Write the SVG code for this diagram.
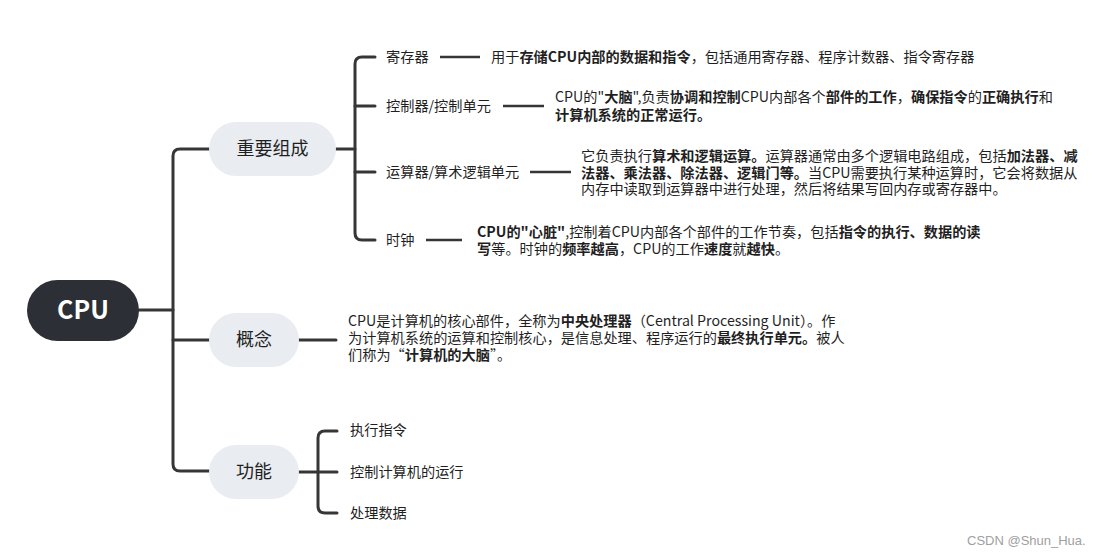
<svg xmlns="http://www.w3.org/2000/svg" width="1108" height="556" viewBox="0 0 1108 556">
<style>
text{font-family:"Noto Sans CJK SC","Noto Sans",sans-serif;fill:#1f1f1f}
.t{font-size:14.2px}
.b{font-weight:bold}
.topic{font-size:18px;text-anchor:middle}
.pill{fill:#e9ecf0}
.ln{fill:none;stroke:#363636;stroke-width:3;stroke-linecap:round;stroke-linejoin:round}
.dl{fill:none;stroke:#363636;stroke-width:2.5}
</style>
<rect width="1108" height="556" fill="#ffffff"/>
<g id="connectors">
<path class="ln" d="M139 310 H173"/>
<path class="ln" d="M209 149 H180 Q173 149 173 156 V464 Q173 471 180 471 H209"/>
<path class="ln" d="M173 340 H209"/>
<path class="ln" d="M336 149 H355"/>
<path class="ln" d="M375 57 H362 Q355 57 355 64 V233 Q355 240 362 240 H375"/>
<path class="ln" d="M355 106 H375"/>
<path class="ln" d="M355 172 H375"/>
<path class="dl" d="M440 57 H480"/>
<path class="dl" d="M503 106 H544"/>
<path class="dl" d="M530 172 H571"/>
<path class="dl" d="M426 240 H462"/>
<path class="ln" d="M299 340 H336"/>
<path class="ln" d="M299 472 H337"/>
<path class="ln" d="M337 431 H325 Q318 431 318 438 V506 Q318 513 325 513 H337"/>
</g>
<g id="cpu">
<rect x="27" y="280" width="112" height="61" rx="30.5" fill="#2c3036"/>
<text x="83" y="319" text-anchor="middle" class="b" style="font-size:25px;fill:#ffffff">CPU</text>
</g>
<g id="zhongyao">
<rect class="pill" x="209" y="122" width="127" height="54" rx="27"/>
<text class="topic" x="272.5" y="155">重要组成</text>
</g>
<g id="gainian">
<rect class="pill" x="209" y="313" width="90" height="54" rx="27"/>
<text class="topic" x="254" y="346">概念</text>
</g>
<g id="gongneng">
<rect class="pill" x="209" y="445" width="90" height="54" rx="27"/>
<text class="topic" x="254" y="478">功能</text>
</g>
<g id="jicunqi">
<text class="t" x="386" y="62">寄存器</text>
<text class="t" x="491" y="62">用于<tspan class="b">存储CPU内部的数据和指令</tspan>，包括通用寄存器、程序计数器、指令寄存器</text>
</g>
<g id="kongzhiqi">
<text class="t" x="386" y="111">控制器/控制单元</text>
<text class="t" x="555" y="102">CPU的"<tspan class="b">大脑</tspan>",负责<tspan class="b">协调和控制</tspan>CPU内部各个<tspan class="b">部件的工作</tspan>，<tspan class="b">确保指令</tspan>的<tspan class="b">正确执行</tspan>和</text>
<text class="t b" x="555" y="120">计算机系统的正常运行。</text>
</g>
<g id="yunsuanqi">
<text class="t" x="386" y="177">运算器/算术逻辑单元</text>
<text class="t" x="581" y="161">它负责执行<tspan class="b">算术和逻辑运算。</tspan>运算器通常由多个逻辑电路组成，包括<tspan class="b">加法器、减</tspan></text>
<text class="t" x="581" y="177.5"><tspan class="b">法器、乘法器、除法器、逻辑门等。</tspan>当CPU需要执行某种运算时，它会将数据从</text>
<text class="t" x="581" y="194">内存中读取到运算器中进行处理，然后将结果写回内存或寄存器中。</text>
</g>
<g id="shizhong">
<text class="t" x="386" y="245">时钟</text>
<text class="t" x="477" y="237"><tspan class="b">CPU的"心脏"</tspan>,控制着CPU内部各个部件的工作节奏，包括<tspan class="b">指令的执行、数据的读</tspan></text>
<text class="t" x="477" y="254"><tspan class="b">写</tspan>等。时钟的<tspan class="b">频率越高</tspan>，CPU的工作<tspan class="b">速度</tspan>就<tspan class="b">越快</tspan>。</text>
</g>
<g id="gainian-text">
<text class="t" x="348" y="326">CPU是计算机的核心部件，全称为<tspan class="b">中央处理器</tspan>（Central Processing Unit）。作</text>
<text class="t" x="348" y="343">为计算机系统的运算和控制核心，是信息处理、程序运行的<tspan class="b">最终执行单元。</tspan>被人</text>
<text class="t" x="348" y="359.5">们称为“<tspan class="b">计算机的大脑</tspan>”。</text>
</g>
<g id="zhixing"><text class="t" x="350" y="435">执行指令</text></g>
<g id="kongzhi"><text class="t" x="350" y="477">控制计算机的运行</text></g>
<g id="chuli"><text class="t" x="350" y="518">处理数据</text></g>
<text x="967" y="545" style="font-family:'Liberation Sans',Arial,sans-serif;font-size:13px;fill:#a0a0a0">CSDN @Shun_Hua.</text>
</svg>
